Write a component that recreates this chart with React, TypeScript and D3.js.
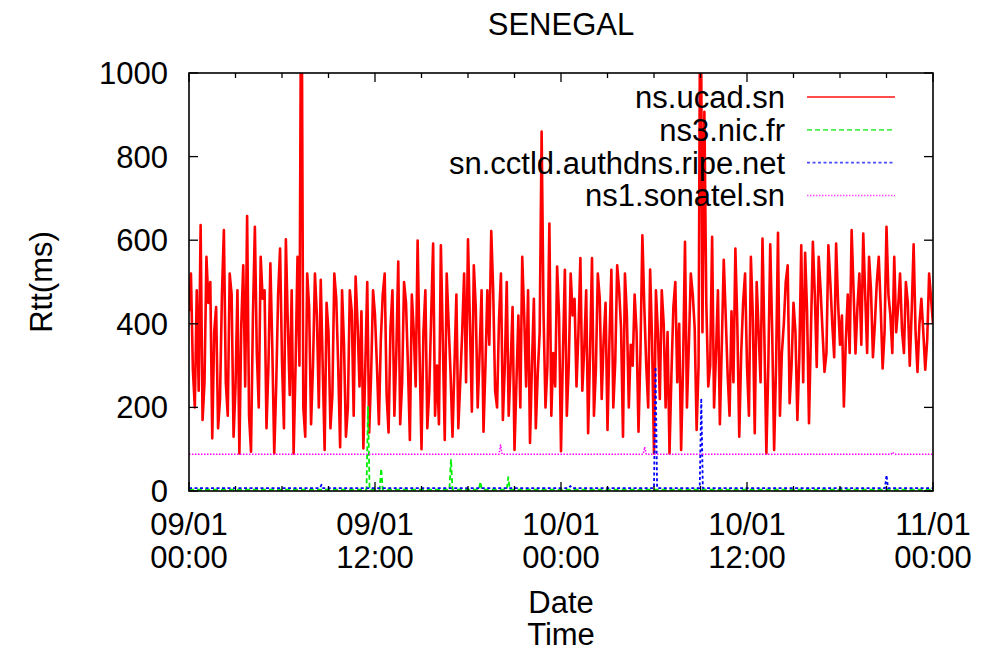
import * as d3 from "d3";

// time axis: 09/01 00:00 -> 11/01 00:00, red probe sampled every 7.5 min
const START = new Date(2010, 0, 9, 0, 0);
const END = new Date(2010, 0, 11, 0, 0);
const STEP_MINUTES = 7.5;

const seriesNames = ["ns.ucad.sn", "ns3.nic.fr", "sn.cctld.authdns.ripe.net", "ns1.sonatel.sn"];
const yTicks = [0, 200, 400, 600, 800, 1000];

// ns.ucad.sn rtt (ms) on each quarter hour
const ucadOnQuarter = [
  430, 290, 480, 636, 260, 450, 126, 440, 220, 624, 180, 470, 250, 90, 540, 658,
  94, 632, 200, 460, 150, 545, 90, 470, 310, 602, 230, 90, 560, 1400, 130, 440,
  300, 420, 505, 98, 380, 230, 460, 105, 350, 200, 430, 513, 250, 102, 500, 280,
  420, 160, 470, 230, 390, 180, 549, 260, 450, 122, 380, 599, 100, 480, 240, 592,
  300, 588, 122, 400, 130, 470, 260, 520, 602, 190, 440, 330, 142, 480, 622, 240,
  410, 170, 500, 300, 98, 420, 560, 250, 115, 460, 280, 860, 200, 640, 330, 537,
  95, 529, 300, 420, 250, 557, 340, 138, 557, 290, 460, 360, 146, 529, 310, 481,
  130, 420, 350, 470, 142, 612, 300, 530, 90, 380, 480, 200, 90, 440, 260, 98,
  596, 350, 470, 146, 1400, 907, 250, 608, 330, 160, 553, 280, 430, 580, 130, 450,
  300, 560, 138, 380, 604, 90, 590, 98, 618, 330, 500, 210, 450, 170, 588, 570,
  162, 596, 297, 480, 285, 588, 400, 592, 350, 202, 470, 624, 329, 520, 616, 330,
  480, 400, 560, 293, 632, 420, 560, 440, 385, 500, 300, 590, 285, 460, 290, 520,
  400,
];

// ns.ucad.sn rtt (ms) half way between the quarter hours
const ucadBetween = [
  520, 200, 240, 170, 560, 500, 380, 150, 470, 260, 520, 130, 480, 400, 250, 180,
  420, 330, 560, 480, 300, 340, 250, 580, 150, 400, 480, 300, 300, 200, 520, 160,
  520, 200, 300, 450, 150, 520, 300, 480, 130, 480, 180, 400, 430, 300, 140, 480,
  300, 360, 520, 140, 480, 330, 160, 500, 300, 470, 250, 330, 380, 150, 420, 180,
  160, 360, 520, 280, 300, 150, 380, 260, 400, 540, 200, 480, 300, 350, 480, 200,
  520, 300, 180, 440, 260, 200, 420, 480, 300, 150, 380, 420, 300, 180, 250, 420,
  330, 180, 520, 460, 380, 240, 480, 330, 180, 520, 220, 450, 360, 200, 540, 390,
  520, 200, 300, 380, 330, 440, 200, 360, 480, 220, 400, 380, 280, 500, 400, 300,
  200, 520, 390, 300, 380, 450, 300, 200, 480, 350, 420, 180, 260, 400, 330, 520,
  180, 420, 500, 260, 360, 300, 380, 300, 180, 400, 540, 300, 380, 320, 260, 430,
  380, 470, 560, 380, 330, 500, 320, 450, 420, 360, 330, 480, 440, 350, 470, 560,
  320, 500, 440, 380, 470, 330, 380, 520, 330, 450, 430, 380, 400, 380, 360, 460,
];

// sparse probes: hour offsets and rtt (ms)
const nicHours = [0, 11.45, 11.55, 11.65, 12.3, 12.4, 12.5, 16.8, 16.9, 17.0, 18.7, 18.8, 18.9, 20.5, 20.6, 20.7, 48];
const nicRtt = [3, 3, 201, 3, 3, 54, 3, 3, 76, 3, 3, 22, 3, 3, 33, 3, 3];

const ripeHours = [0, 8.45, 8.55, 8.65, 24.5, 24.6, 24.7, 30.0, 30.1, 30.2, 32.95, 33.05, 33.15, 44.9, 45.0, 45.1, 48];
const ripeRtt = [7, 7, 15, 7, 7, 12, 7, 7, 297, 7, 7, 222, 7, 7, 38, 7, 7];

const sonatelHours = [0, 20.0, 20.1, 20.2, 29.3, 29.4, 29.5, 45.3, 45.4, 45.5, 48];
const sonatelRtt = [88, 88, 110, 88, 88, 105, 88, 88, 93, 88, 88];

const FONT = "'Liberation Sans', Arial, Helvetica, sans-serif";
const FS = 31;

export default function App() {
  const width = 994;
  const height = 654;
  const plot = { left: 189, right: 933, top: 73, bottom: 491 };

  const x = d3.scaleTime().domain([START, END]).range([plot.left, plot.right]);
  const y = d3.scaleLinear().domain([0, 1000]).range([plot.bottom, plot.top]);

  type Pt = { t: Date; v: number };
  const line = d3
    .line<Pt>()
    .x((d) => x(d.t))
    .y((d) => y(d.v));

  // interleave the two red lists into one time series
  const ucadVals: number[] = [];
  ucadOnQuarter.forEach((v, i) => {
    ucadVals.push(v);
    if (i < ucadBetween.length) ucadVals.push(ucadBetween[i]);
  });
  const ucad: Pt[] = ucadVals.map((v, i) => ({
    t: new Date(START.getTime() + i * STEP_MINUTES * 60000),
    v,
  }));
  const sparse = (hours: number[], vals: number[]): Pt[] =>
    hours.map((h, i) => ({ t: d3.timeMinute.offset(START, Math.round(h * 60)), v: vals[i] }));

  const series = [
    { name: seriesNames[0], pts: ucad, color: "#ff0000", dash: "", sw: 2.6, legendSw: 2.1 },
    { name: seriesNames[1], pts: sparse(nicHours, nicRtt), color: "#00ee00", dash: "5,3", sw: 1.8, legendSw: 1.8 },
    { name: seriesNames[2], pts: sparse(ripeHours, ripeRtt), color: "#0000ff", dash: "3,2.5", sw: 1.8, legendSw: 1.8 },
    { name: seriesNames[3], pts: sparse(sonatelHours, sonatelRtt), color: "#ff00ff", dash: "1.5,1.5", sw: 1.5, legendSw: 1.5 },
  ];

  const minorTicks = d3.timeHour.every(3)!.range(START, d3.timeMinute.offset(END, 1));
  const majorTicks = d3.timeHour.every(12)!.range(START, d3.timeMinute.offset(END, 1));
  const fmtDay = d3.timeFormat("%d/%m");
  const fmtHour = d3.timeFormat("%H:%M");

  const legendX1 = 807;
  const legendX2 = 895;
  const legendTextX = 785;
  const legendY0 = 97;
  const legendDy = 32.8;

  return (
    <svg
      width={width}
      height={height}
      style={{ position: "absolute", left: 0, top: 0, background: "#fff" }}
      fontFamily={FONT}
    >
      <defs>
        <clipPath id="plotclip">
          <rect x={plot.left} y={plot.top} width={plot.right - plot.left} height={plot.bottom - plot.top} />
        </clipPath>
      </defs>

      {/* title */}
      <text x={(plot.left + plot.right) / 2} y={35} textAnchor="middle" fontSize={FS} fill="#000">
        SENEGAL
      </text>

      {/* data */}
      <g clipPath="url(#plotclip)">
        {series.map((s) => (
          <path
            key={s.name}
            d={line(s.pts) ?? ""}
            fill="none"
            stroke={s.color}
            strokeWidth={s.sw}
            strokeDasharray={s.dash || undefined}
            strokeLinejoin="round"
          />
        ))}
      </g>

      {/* y ticks */}
      {yTicks.map((t) => (
        <g key={t}>
          <line x1={plot.left} x2={plot.left + 9} y1={y(t)} y2={y(t)} stroke="#000" strokeWidth={1.3} />
          <line x1={plot.right} x2={plot.right - 9} y1={y(t)} y2={y(t)} stroke="#000" strokeWidth={1.3} />
          <text x={plot.left - 21} y={y(t) + 11} textAnchor="end" fontSize={FS} fill="#000">
            {t}
          </text>
        </g>
      ))}

      {/* x ticks */}
      {minorTicks.map((t) => {
        const major = t.getHours() % 12 === 0;
        const len = major ? 9 : 5;
        return (
          <g key={t.getTime()}>
            <line x1={x(t)} x2={x(t)} y1={plot.bottom} y2={plot.bottom - len} stroke="#000" strokeWidth={1.3} />
            <line x1={x(t)} x2={x(t)} y1={plot.top} y2={plot.top + len} stroke="#000" strokeWidth={1.3} />
          </g>
        );
      })}
      {majorTicks.map((t) => (
        <text key={t.getTime()} x={x(t)} textAnchor="middle" fontSize={FS} fill="#000">
          <tspan x={x(t)} y={535}>{fmtDay(t)}</tspan>
          <tspan x={x(t)} y={568}>{fmtHour(t)}</tspan>
        </text>
      ))}

      {/* frame */}
      <rect
        x={plot.left}
        y={plot.top}
        width={plot.right - plot.left}
        height={plot.bottom - plot.top}
        fill="none"
        stroke="#000"
        strokeWidth={1.6}
      />

      {/* axis labels */}
      <text x={(plot.left + plot.right) / 2} y={613} textAnchor="middle" fontSize={FS} fill="#000">
        Date
      </text>
      <text x={(plot.left + plot.right) / 2} y={645} textAnchor="middle" fontSize={FS} fill="#000">
        Time
      </text>
      <text
        transform={`translate(52, ${(plot.top + plot.bottom) / 2}) rotate(-90)`}
        textAnchor="middle"
        fontSize={FS}
        fill="#000"
      >
        Rtt(ms)
      </text>

      {/* legend */}
      {series.map((s, i) => {
        const ly = legendY0 + i * legendDy;
        return (
          <g key={s.name}>
            <text x={legendTextX} y={ly + 11} textAnchor="end" fontSize={FS} fill="#000">
              {s.name}
            </text>
            <line
              x1={legendX1}
              x2={legendX2}
              y1={ly}
              y2={ly}
              stroke={s.color}
              strokeOpacity={0.7}
              strokeWidth={s.legendSw}
              strokeDasharray={s.dash || undefined}
            />
          </g>
        );
      })}
    </svg>
  );
}
